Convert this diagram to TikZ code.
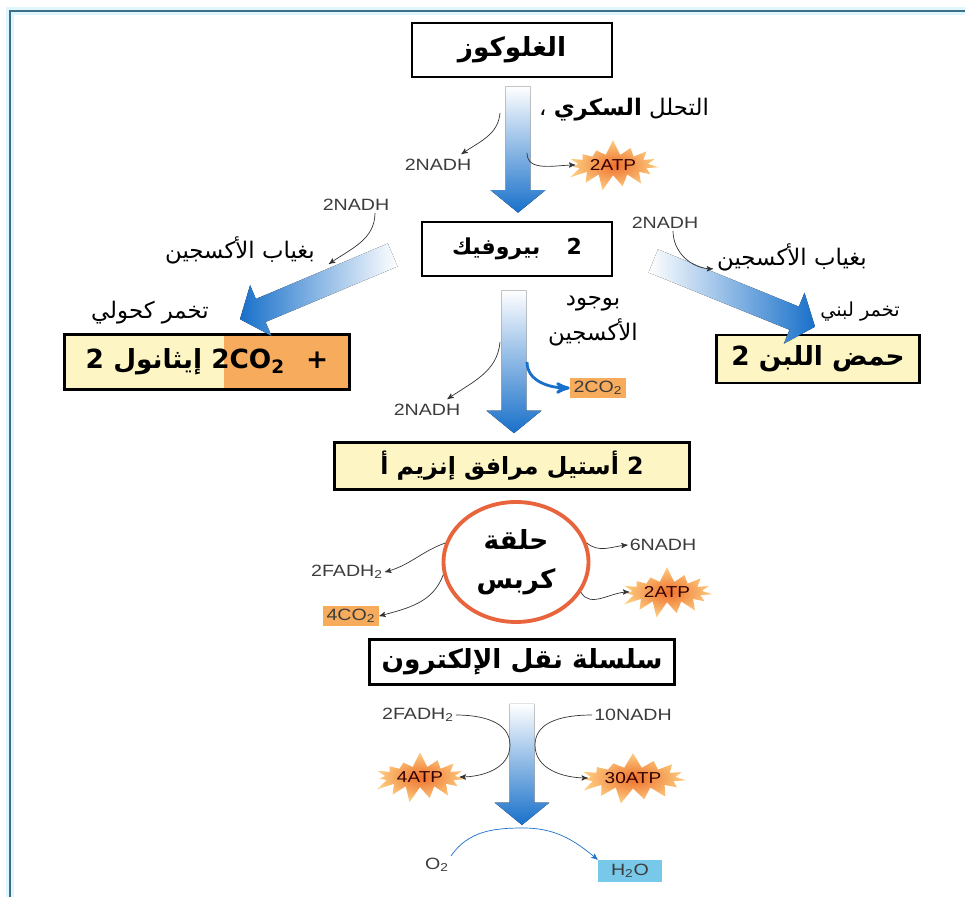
\documentclass[tikz,border=0pt]{standalone}
\usepackage{fontspec}
\setmainfont{Liberation Sans}
\newfontfamily\lblfont[FakeStretch=1.2]{Liberation Sans}
\newfontfamily\ar[Script=Arabic]{DejaVu Sans}
\TeXXeTstate=1
\usepackage{tikz}
\usetikzlibrary{positioning}
\usetikzlibrary{shapes.symbols,shapes.geometric,arrows,calc}

\definecolor{arrowblue}{RGB}{24,112,202}
\definecolor{boxyellow}{RGB}{253,246,196}
\definecolor{cofill}{RGB}{246,172,92}
\definecolor{krebsred}{RGB}{232,100,60}
\definecolor{waterblue}{RGB}{120,200,234}
\definecolor{framecol}{RGB}{58,112,136}
\definecolor{burstin}{RGB}{238,112,44}
\definecolor{burstout}{RGB}{253,206,130}
\definecolor{lblgray}{RGB}{60,60,60}

% fat shaded arrow: tail, tip, shading
\newcommand\bigarrow[3]{%
  \coordinate (ba-t) at (#1); \coordinate (ba-p) at (#2);
  \coordinate (ba-h) at ($(ba-p)!0.45cm!(ba-t)$);
  \fill[#3] ($(ba-t)!0.25cm!90:(ba-p)$) -- ($(ba-h)!0.25cm!90:(ba-p)$) -- ($(ba-h)!0.55cm!90:(ba-p)$)
    -- (ba-p) -- ($(ba-h)!0.55cm!-90:(ba-p)$) -- ($(ba-h)!0.25cm!-90:(ba-p)$) -- ($(ba-t)!0.25cm!-90:(ba-p)$) -- cycle;}

\tikzset{
  box/.style={draw=black, line width=1.5pt, fill=white, inner sep=2pt, font=\ar\bfseries\fontsize{15}{18}\selectfont},
  ybox/.style={box, fill=boxyellow},
  lbl/.style={font=\lblfont\fontsize{9.3}{11}\selectfont, text=lblgray, inner sep=1pt},
  artxt/.style={font=\ar\fontsize{13}{20}\selectfont, inner sep=1pt},
  cobox/.style={lbl, fill=cofill, inner sep=2pt},
  burst/.style={starburst, starburst points=15, starburst point height=0.32cm, random starburst=7,
    inner color=burstin, outer color=burstout, font=\lblfont\fontsize{9}{10}\selectfont, text=black!80!red, inner sep=1pt},
  link/.style={->, >=stealth', thin, black!80},
}

\begin{document}
\begin{tikzpicture}[x=0.02cm, y=0.02cm]
\useasboundingbox (0,0) rectangle (965,897);
% frame
\draw[cyan!12, line width=4pt] (965,886) -- (10,886) -- (10,0);
\draw[framecol, line width=1.1pt] (965,886) -- (10,886) -- (10,0);

% main boxes
\node (glu) [box, minimum width=4cm, minimum height=1.08cm] at (512,847) {\beginR الغلوكوز\endR};
\node (pyr) [box, minimum width=3.8cm, minimum height=1.08cm, font=\ar\bfseries\fontsize{12.5}{15}\selectfont]
  at (517,648) {\beginR 2\hspace{1.2em}بيروفيك\endR};
\node (etoh) [ybox, minimum width=5.7cm, minimum height=1.1cm,
  path picture={\fill[cofill] ($(path picture bounding box.north)+(0.35cm,0)$) rectangle (path picture bounding box.south east);}]
  at (207,535) {2 \beginR إيثانول\endR\ 2CO\textsubscript{2}\hspace{0.8em}+};
\node (lac) [ybox, minimum width=4.05cm, minimum height=0.96cm] at (818,538) {\beginR حمض اللبن 2\endR};
\node (acoa) [ybox, minimum width=7.1cm, minimum height=0.94cm, font=\ar\bfseries\fontsize{13.5}{16}\selectfont]
  at (512,431) {\beginR 2 أستيل مرافق إنزيم أ\endR};
\node (krebs) [ellipse, draw=krebsred, line width=2.2pt, minimum width=2.9cm, minimum height=2.4cm, align=center,
  font=\ar\bfseries\fontsize{15}{22}\selectfont] at (516,335) {\beginR حلقة\endR\\\beginR كربس\endR};
\node (etc) [box, minimum width=6.1cm, minimum height=0.9cm] at (522,235) {\beginR سلسلة نقل الإلكترون\endR};

% big arrows
\bigarrow{$(glu.south)+(6,-8)$}{$(pyr.north)+(1,8)$}{top color=white, bottom color=arrowblue}
\bigarrow{$(pyr.south)+(-3,-13)$}{$(acoa.north)+(2,8)$}{top color=white, bottom color=arrowblue}
\coordinate (peak) at (523,69);
\bigarrow{$(etc.south)+(0,-18)$}{$(peak)+(-1,3)$}{top color=white, bottom color=arrowblue}
\bigarrow{$(pyr.west)+(-28,-6)$}{$(etoh.north)+(33,14)$}{left color=arrowblue, right color=white}
\bigarrow{$(pyr.east)+(40,-12)$}{$(lac.north)+(-3,7)$}{left color=white, right color=arrowblue}

% glycolysis
\node (glyc) [artxt] at (624,787) {\beginR التحلل {\bfseries السكري} ،\endR};
\node (nadh1) [lbl] at (438,732) {2NADH};
\node (atp1) [burst] at (613,732) {2ATP};
\coordinate (g1) at (500,784);
\coordinate (g2) at (527,744);
\draw[link] (g1) to[out=-95,in=35] ($(nadh1.north east)+(-12,3)$);
\draw[link] (g2) to[out=-90,in=180] (atp1.west);

% fermentations
\node (nadhL) [lbl] at (356,692) {2NADH};
\node (anoxL) [artxt] at (240,647) {\beginR بغياب الأكسجين\endR};
\node (alcF) [artxt] at (150,584) {\beginR تخمر كحولي\endR};
\draw[link] ($(nadhL.south)+(19,0)$) to[out=-90,in=35] ($(anoxL.east)+(12,-14)$);
\node (nadhR) [lbl] at (665,674) {2NADH};
\node (anoxR) [artxt] at (792,640) {\beginR بغياب الأكسجين\endR};
\node (lacF) [artxt, font=\ar\fontsize{11}{13}\selectfont] at (860,585) {\beginR تخمر لبني\endR};
\draw[link] ($(nadhR.south)+(8,0)$) to[out=-90,in=180] ($(anoxR.south west)+(-2,4)$);

% link reaction
\node (oxy) [artxt, align=center] at (593,576) {\beginR بوجود\endR\\\beginR الأكسجين\endR};
\node (nadh2) [lbl] at (427,487) {2NADH};
\node (co2a) [cobox] at (598,509) {2CO\textsubscript{2}};
\coordinate (p1) at (500,555);
\coordinate (p2) at (527,535);
\draw[link] (p1) to[out=-95,in=35] ($(nadh2.north east)+(-15,3)$);
\draw[->, >=stealth', line width=1.6pt, arrowblue] (p2) to[out=-90,in=180] (co2a.west);

% krebs
\node (nadh6) [lbl] at (663,352) {6NADH};
\node (atp2) [burst] at (667,305) {2ATP};
\node (fadhK) [lbl] at (347,325) {2FADH\textsubscript{2}};
\node (co2b) [cobox] at (351,281) {4CO\textsubscript{2}};
\draw[link] (krebs.15) to[out=-40,in=185] (nadh6.west);
\draw[link] (krebs.-25) to[out=-60,in=180] (atp2.west);
\draw[link] (krebs.165) to[out=200,in=15] (fadhK.east);
\draw[link] (krebs.190) to[out=-110,in=15] (co2b.east);

% electron transport
\node (fadhE) [lbl] at (418,182) {2FADH\textsubscript{2}};
\node (nadh10) [lbl] at (633,182) {10NADH};
\node (atp4) [burst] at (420,120) {4ATP};
\node (atp30) [burst] at (633,119) {30ATP};
\coordinate (e1) at (510,152);
\coordinate (e2) at (535,152);
\draw[link] (fadhE.east) to[out=0,in=90] (e1) to[out=-90,in=0] (atp4.east);
\draw[link] (nadh10.west) to[out=180,in=90] (e2) to[out=-90,in=180] (atp30.west);
\node (o2) [lbl] at (437,32) {O\textsubscript{2}};
\node (h2o) [lbl, fill=waterblue, minimum width=1.28cm, minimum height=0.44cm] at (630,26) {H\textsubscript{2}O};
\draw[->, >=stealth', thin, arrowblue] (o2.north east) to[out=55,in=180] (peak) to[out=0,in=140] (h2o.north west);
\end{tikzpicture}
\end{document}
